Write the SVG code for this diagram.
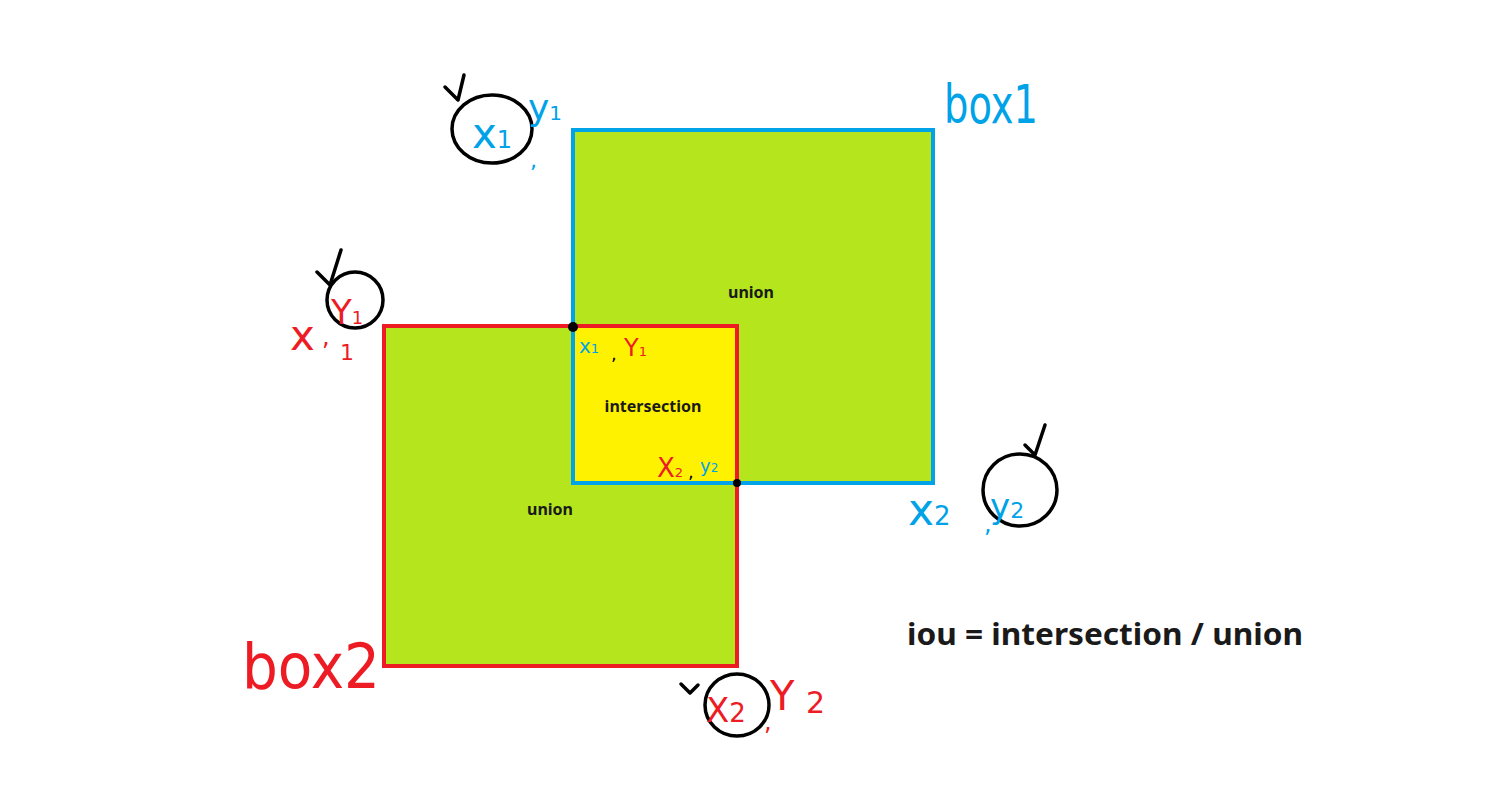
<svg xmlns="http://www.w3.org/2000/svg" width="1488" height="809" viewBox="0 0 1488 809">
<style>
.lbl{font-family:"Noto Sans","Liberation Sans",sans-serif;font-weight:bold;fill:#1a1a1a}
.hb{font-family:"DejaVu Sans","Liberation Sans",sans-serif;fill:#00a2e8}
.hr{font-family:"DejaVu Sans","Liberation Sans",sans-serif;fill:#ed1c24}
.ring{fill:none;stroke:#000;stroke-width:3.5;stroke-linecap:round;stroke-linejoin:round}
</style>
<rect width="1488" height="809" fill="#fff"/>
<g id="box1-fill"><rect x="573" y="130" width="360" height="353" fill="#b5e61d"/></g>
<g id="box2-fill"><rect x="384" y="326" width="353" height="340" fill="#b5e61d"/></g>
<g id="intersection"><rect x="573" y="326" width="164" height="157" fill="#fff200"/>
<text class="lbl" x="653" y="412" font-size="16" text-anchor="middle">intersection</text></g>
<g id="box2"><rect x="384" y="326" width="353" height="340" fill="none" stroke="#ed1c24" stroke-width="4"/>
<text class="lbl" x="550" y="515" font-size="16" text-anchor="middle">union</text>
<text class="hr" x="242" y="688" font-size="62" textLength="138" lengthAdjust="spacingAndGlyphs">box2</text></g>
<g id="box1"><rect x="573" y="130" width="360" height="353" fill="none" stroke="#00a2e8" stroke-width="4"/>
<text class="lbl" x="751" y="298" font-size="16" text-anchor="middle">union</text>
<text class="hb" x="944" y="123" font-size="54" textLength="94" lengthAdjust="spacingAndGlyphs">box1</text></g>
<g id="corners">
<circle cx="573" cy="327" r="5" fill="#000"/>
<circle cx="737" cy="483" r="4" fill="#000"/>
<text class="hb" x="579" y="353" font-size="20">x<tspan font-size="13">1</tspan></text>
<text x="611" y="360" font-size="18" font-family="DejaVu Sans,sans-serif" fill="#000">,</text>
<text class="hr" x="624" y="356" font-size="24">Y<tspan font-size="13">1</tspan></text>
<text class="hr" x="657" y="477" font-size="26">X<tspan font-size="13">2</tspan></text>
<text x="688" y="478" font-size="18" font-family="DejaVu Sans,sans-serif" fill="#000">,</text>
<text class="hb" x="700" y="472" font-size="18">y<tspan font-size="12">2</tspan></text>
</g>
<g id="box1-top-left-label">
<ellipse class="ring" cx="492" cy="129" rx="40" ry="34"/>
<path class="ring" d="M445 87 L458 100 L464 75"/>
<text class="hb" x="472" y="148" font-size="42">x<tspan font-size="24">1</tspan></text>
<text class="hb" x="530" y="168" font-size="22">,</text>
<text class="hb" x="528" y="120" font-size="36">y<tspan font-size="20">1</tspan></text>
</g>
<g id="box2-top-left-label">
<circle class="ring" cx="355" cy="300" r="28"/>
<path class="ring" d="M317 272 L330 285 L341 250"/>
<text class="hr" x="290" y="350" font-size="42">x</text>
<text class="hr" x="322" y="345" font-size="24">,</text>
<text class="hr" x="331" y="324" font-size="34">Y<tspan font-size="18">1</tspan></text>
<text class="hr" x="340" y="360" font-size="22">1</text>
</g>
<g id="box1-bottom-right-label">
<ellipse class="ring" cx="1020" cy="490" rx="37" ry="36"/>
<path class="ring" d="M1025 445 L1035 455 L1045 425"/>
<text class="hb" x="908" y="525" font-size="44">x<tspan font-size="26">2</tspan></text>
<text class="hb" x="984" y="532" font-size="24">,</text>
<text class="hb" x="990" y="518" font-size="34">y<tspan font-size="22">2</tspan></text>
</g>
<g id="box2-bottom-right-label">
<ellipse class="ring" cx="737" cy="705" rx="32" ry="31"/>
<path class="ring" d="M681 684 L690 693 L698 685"/>
<text class="hr" x="706" y="722" font-size="34">X<tspan font-size="26">2</tspan></text>
<text class="hr" x="764" y="730" font-size="24">,</text>
<text class="hr" x="770" y="710" font-size="40">Y</text>
<text class="hr" x="806" y="713" font-size="30">2</text>
</g>
<g id="formula">
<text class="lbl" x="907" y="645" font-size="31" textLength="396" lengthAdjust="spacingAndGlyphs">iou = intersection / union</text>
</g>
</svg>
